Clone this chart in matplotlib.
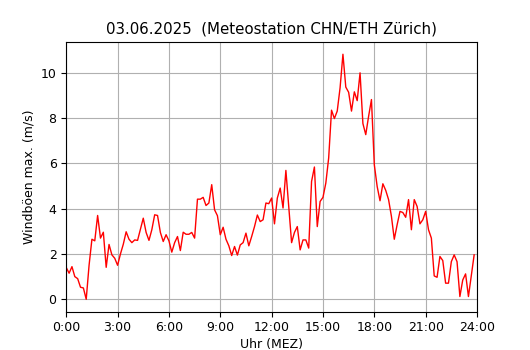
import numpy as np
import matplotlib
matplotlib.use("Agg")
import matplotlib.pyplot as plt

plt.rcParams["font.size"] = 9

# Windböen max. (m/s), 10-minute values from 0:00 to 23:50
gusts = [
    1.40, 1.15, 1.44, 1.00, 0.91, 0.53, 0.50, 0.00, 1.50, 2.65,
    2.58, 3.70, 2.70, 2.96, 1.41, 2.42, 1.96, 1.81, 1.50, 2.00,
    2.43, 2.98, 2.65, 2.50, 2.62, 2.60, 3.10, 3.58, 2.95, 2.60,
    3.07, 3.73, 3.70, 2.95, 2.55, 2.85, 2.58, 2.08, 2.50, 2.77,
    2.15, 2.96, 2.87, 2.87, 2.95, 2.70, 4.42, 4.42, 4.50, 4.14,
    4.25, 5.06, 3.95, 3.69, 2.85, 3.18, 2.65, 2.36, 1.93, 2.33,
    1.95, 2.40, 2.50, 2.92, 2.36, 2.77, 3.21, 3.72, 3.43, 3.51,
    4.25, 4.22, 4.47, 3.33, 4.47, 4.91, 4.03, 5.69, 4.10, 2.50,
    2.95, 3.21, 2.18, 2.62, 2.62, 2.26, 5.20, 5.84, 3.21, 4.32,
    4.50, 5.13, 6.24, 8.35, 7.98, 8.31, 9.34, 10.82, 9.37, 9.14,
    8.31, 9.16, 8.77, 10.00, 7.76, 7.27, 8.08, 8.82, 5.94, 4.98,
    4.35, 5.10, 4.81, 4.40, 3.66, 2.65, 3.29, 3.88, 3.83, 3.62,
    4.40, 3.07, 4.40, 4.10, 3.33, 3.51, 3.88, 3.07, 2.70, 1.03,
    0.97, 1.89, 1.71, 0.71, 0.71, 1.66, 1.96, 1.66, 0.12, 0.85,
    1.12, 0.12, 1.03, 1.96,
]
hours = np.arange(len(gusts)) / 6.0

tick_hours = [0, 3, 6, 9, 12, 15, 18, 21, 24]
tick_labels = [f"{h}:00" for h in tick_hours]

fig, ax = plt.subplots(figsize=(5.3, 3.5), dpi=100)
ax.plot(hours, gusts, color="red", linewidth=1)
ax.set_xlim(0, 24)
ax.set_xticks(tick_hours)
ax.set_xticklabels(tick_labels)
ax.grid(True)
ax.set_xlabel("Uhr (MEZ)", labelpad=3)
ax.set_ylabel("Windböen max. (m/s)")
ax.set_title("03.06.2025  (Meteostation CHN/ETH Zürich)")

fig.savefig("out.png", dpi=100)
